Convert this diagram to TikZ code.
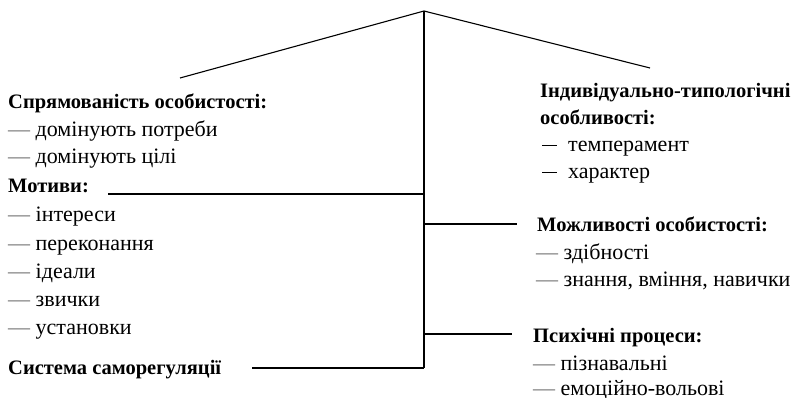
\documentclass[tikz,border=0pt]{standalone}
\usepackage{fontspec}
\setmainfont{Liberation Serif}
\newcommand{\gdash}{\textcolor{black!55}{—}}
\newcommand{\kdash}{\rule[5.5pt]{15pt}{1.1pt}\hspace{11pt}}
\begin{document}
\begin{tikzpicture}[x=1pt,y=-1pt,
  txt/.style={anchor=base west,inner sep=0pt,font=\fontsize{22}{26}\selectfont},
  head/.style={txt,font=\fontsize{20.5}{25}\selectfont\bfseries},
  conn/.style={line width=1.1pt,black}]
\useasboundingbox (0,0) rectangle (798,398);
% trunk coordinates
\coordinate (apex) at (424,11);
\coordinate (lend) at (180,78);
\coordinate (rend) at (650,68);
\coordinate (bottom) at (424,368);
\coordinate (tmot) at (424,194);
\coordinate (smot) at (108,194);
\coordinate (tsys) at (424,368);
\coordinate (ssys) at (252,368);
\coordinate (tmozh) at (424,224);
\coordinate (emozh) at (517,224);
\coordinate (tpsy) at (424,334);
\coordinate (epsy) at (512,334);
% left column
\node[head] (spr) at (8,109) {Спрямованість особистості:};
\node[txt] (spr1) at (8,137) {\gdash{} домінують потреби};
\node[txt] (spr2) at (8,164) {\gdash{} домінують цілі};
\node[head] (mot) at (8,193) {Мотиви:};
\node[txt] (mot1) at (8,222) {\gdash{} інтереси};
\node[txt] (mot2) at (8,251) {\gdash{} переконання};
\node[txt] (mot3) at (8,278) {\gdash{} ідеали};
\node[txt] (mot4) at (8,306) {\gdash{} звички};
\node[txt] (mot5) at (8,334) {\gdash{} установки};
\node[head] (sys) at (8,374) {Система саморегуляції};
% right column
\node[head] (ind) at (540,98) {Індивідуально-типологічні};
\node[head] (ind0) at (540,125) {особливості:};
\node[txt] (ind1) at (542,152) {\kdash темперамент};
\node[txt] (ind2) at (542,179) {\kdash характер};
\node[head] (mozh) at (537,232) {Можливості особистості:};
\node[txt] (mozh1) at (536,259) {\gdash{} здібності};
\node[txt] (mozh2) at (536,287) {\gdash{} знання, вміння, навички};
\node[head] (psy) at (533,342) {Психічні процеси:};
\node[txt] (psy1) at (533,370) {\gdash{} пізнавальні};
\node[txt] (psy2) at (533,395) {\gdash{} емоційно-вольові};
% connectors
\draw[conn] (lend) -- (apex) -- (rend);
\draw[conn] (apex) -- (bottom);
\draw[conn] (smot) -- (tmot);
\draw[conn] (ssys) -- (tsys);
\draw[conn] (tmozh) -- (emozh);
\draw[conn] (tpsy) -- (epsy);
\end{tikzpicture}
\end{document}
